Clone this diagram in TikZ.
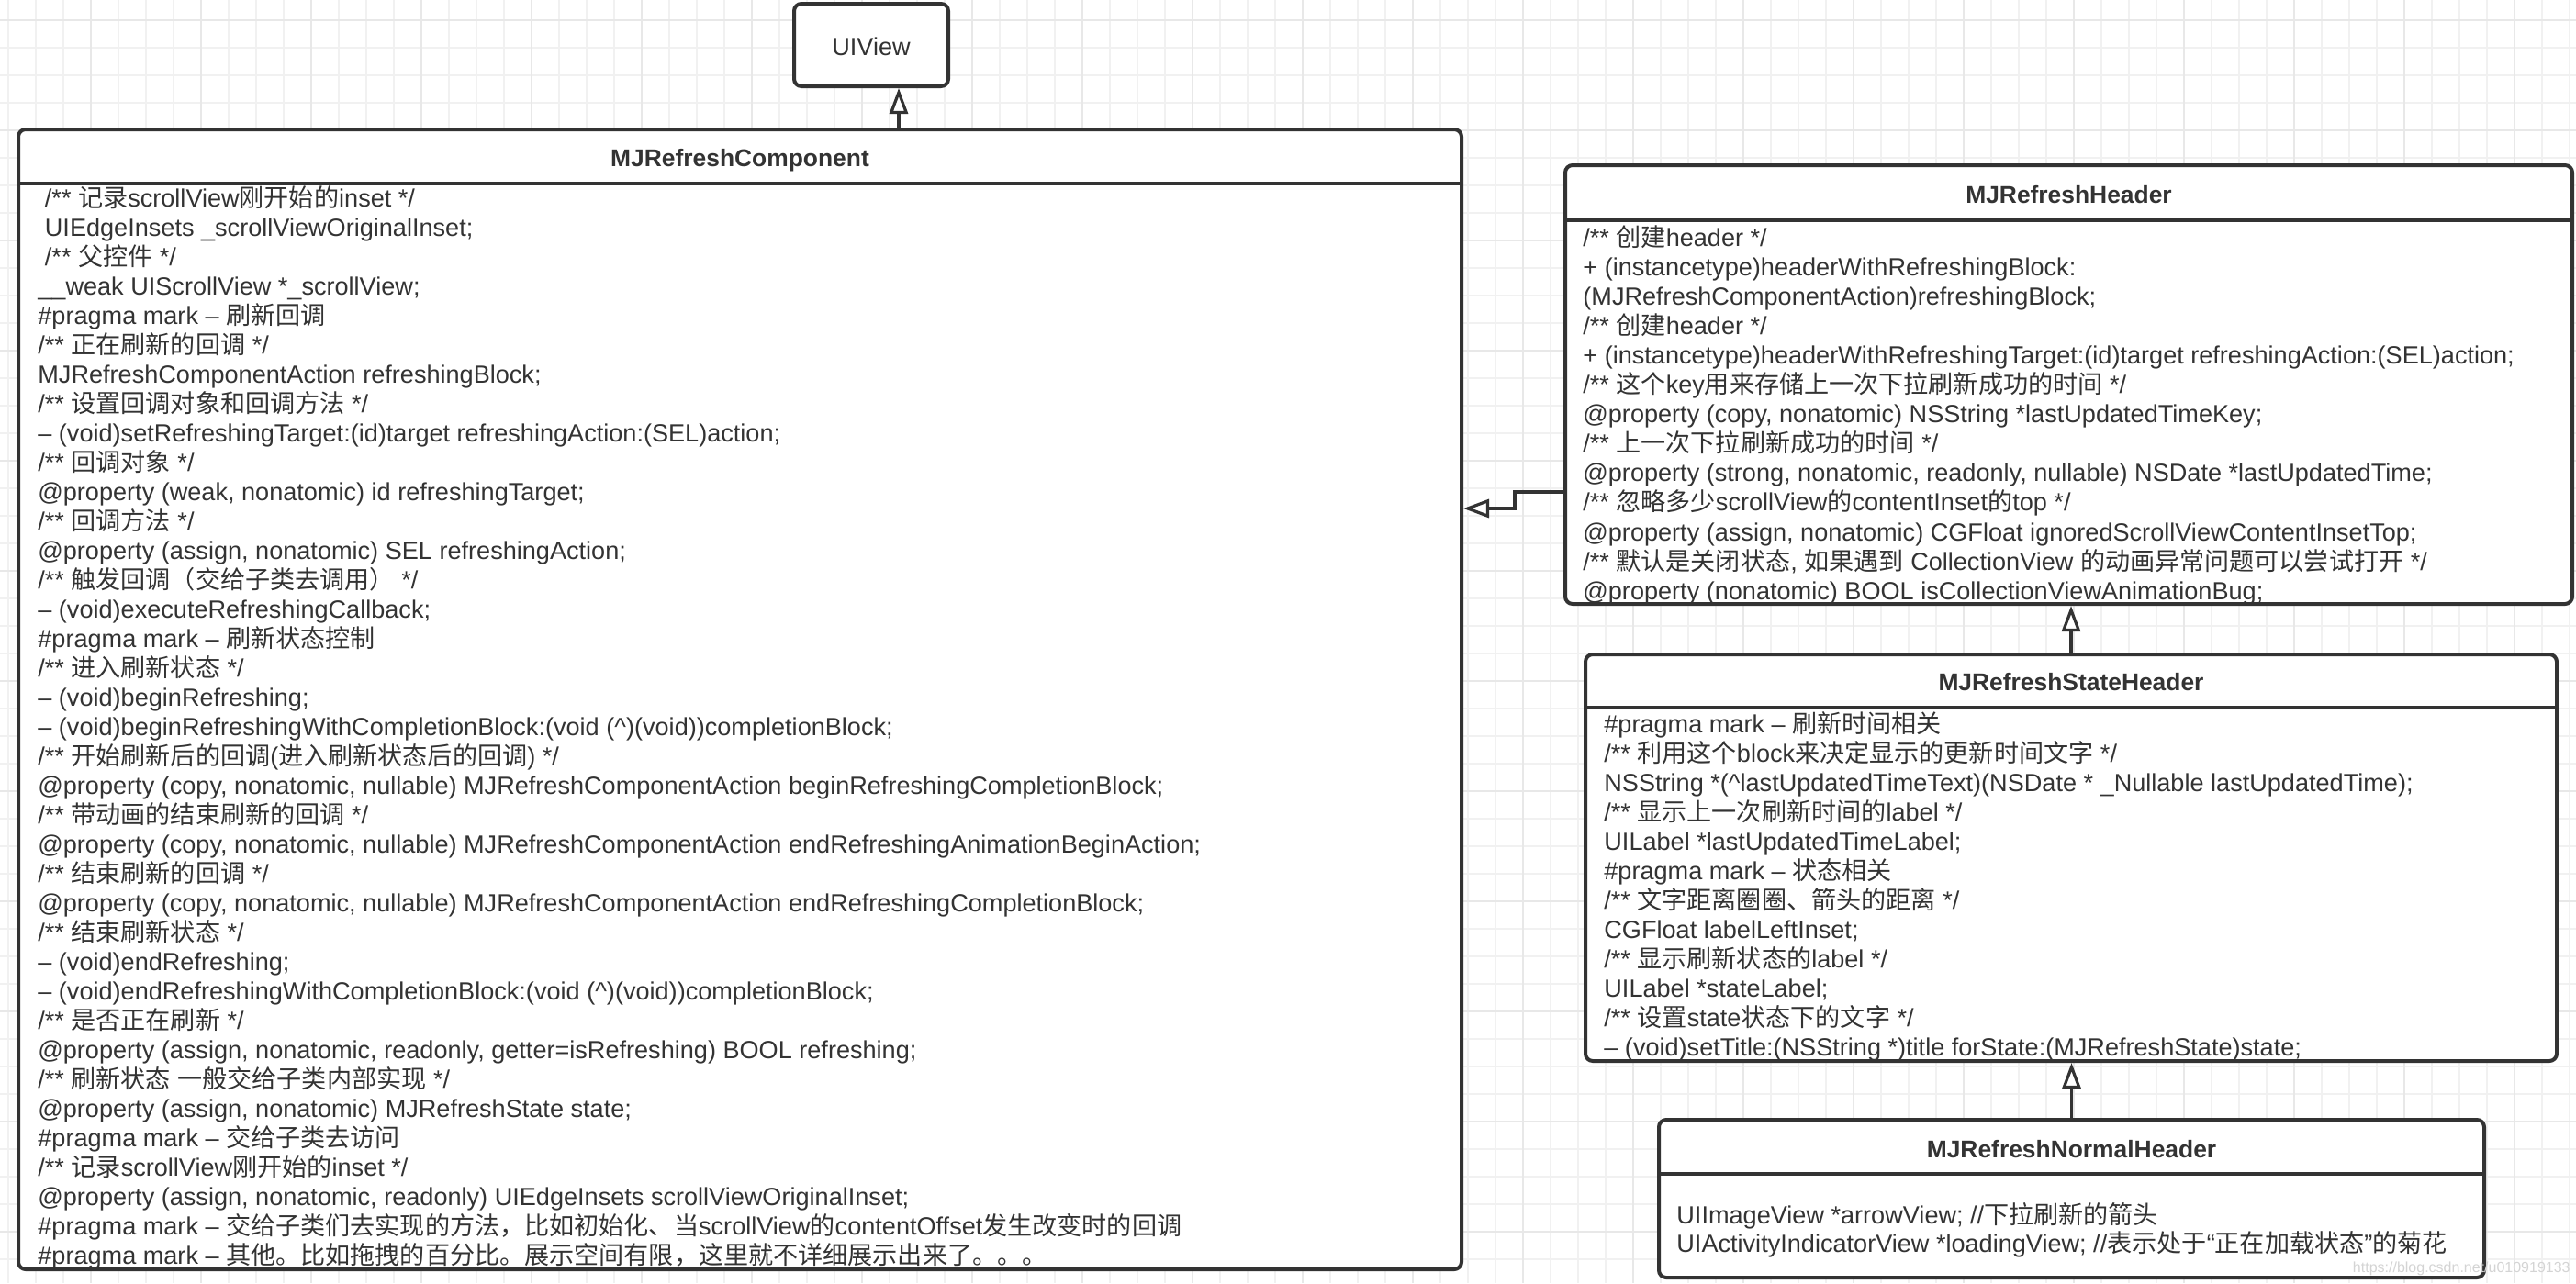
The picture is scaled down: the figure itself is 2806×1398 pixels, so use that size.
\documentclass[tikz,border=0pt]{standalone}
\usepackage{fontspec}
\setmainfont{Liberation Sans}
\newfontfamily\latinfont{Liberation Sans}
\newfontfamily\cjkfont{Noto Sans CJK SC}
\usetikzlibrary{arrows.meta,fit}

% switch to the CJK font for Chinese characters
\newXeTeXintercharclass\cjkclass
\newcount\cjkcode
\def\setcjkrange#1#2{\cjkcode=#1 \loop\XeTeXcharclass\cjkcode=\cjkclass\relax
  \advance\cjkcode by 1 \ifnum\cjkcode<#2 \repeat}
\setcjkrange{"4E00}{"A000}
\setcjkrange{"3000}{"3040}
\setcjkrange{"FF00}{"FFF0}
\XeTeXinterchartoks 0 \cjkclass = {\cjkfont}
\XeTeXinterchartoks 4095 \cjkclass = {\cjkfont}
\XeTeXinterchartoks \cjkclass 0 = {\latinfont}
\XeTeXinterchartoks \cjkclass 4095 = {\latinfont}

\definecolor{umlgray}{HTML}{333333}
\definecolor{gridminor}{HTML}{F1F1F1}
\definecolor{gridmajor}{HTML}{E8E8E8}

\tikzset{
  classbox/.style={draw=umlgray, line width=2pt, rounded corners=4pt, fill=white, inner sep=0pt},
  classname/.style={font=\fontsize{13.2}{16}\selectfont\bfseries, text=umlgray, anchor=base, inner sep=0pt},
  member/.style={font=\fontsize{13.55}{16}\selectfont, text=umlgray, anchor=base west, inner sep=0pt},
  divider/.style={draw=umlgray, line width=2pt},
  inherit/.style={draw=umlgray, line width=1.6pt, -{Triangle[open, length=14pt, width=10pt, fill=white]}},
}

\begin{document}
\XeTeXinterchartokenstate=1
\begin{tikzpicture}[x=0.5pt, y=-0.5pt]
  \useasboundingbox (0,0) rectangle (2806,1398);
  \fill[white] (0,0) rectangle (2806,1398);
  % grid
  \foreach \gx in {9,39,...,2799} \draw[gridminor, line width=1pt] (\gx,0) -- (\gx,1398);
  \foreach \gy in {22,52,...,1392} \draw[gridminor, line width=1pt] (0,\gy) -- (2806,\gy);
  \foreach \gx in {99,219,...,2739} \draw[gridmajor, line width=1pt] (\gx,0) -- (\gx,1398);
  \foreach \gy in {22,142,...,1342} \draw[gridmajor, line width=1pt] (0,\gy) -- (2806,\gy);

  % UIView
  \node[classbox, fit={(865,4) (1033,94)}] (view) {};
  \node[member, anchor=base] (viewname) at (949,60) {UIView};

  % MJRefreshComponent
  \node[classbox, fit={(20,141) (1592,1383)}] (comp) {};
  \node[classname] (compname) at (comp.north |- 0,181) {MJRefreshComponent};
  \draw[divider] (comp.west |- 0,200) -- (comp.east |- 0,200);
  \foreach \txt [count=\i from 0] in {
    {\ /** 记录scrollView刚开始的inset */},
    {\ UIEdgeInsets \_scrollViewOriginalInset;},
    {\ /** 父控件 */},
    {\_\_weak UIScrollView *\_scrollView;},
    {\#pragma mark – 刷新回调},
    {/** 正在刷新的回调 */},
    {MJRefreshComponentAction refreshingBlock;},
    {/** 设置回调对象和回调方法 */},
    {– (void)setRefreshingTarget:(id)target refreshingAction:(SEL)action;},
    {/** 回调对象 */},
    {@property (weak, nonatomic) id refreshingTarget;},
    {/** 回调方法 */},
    {@property (assign, nonatomic) SEL refreshingAction;},
    {/** 触发回调（交给子类去调用） */},
    {– (void)executeRefreshingCallback;},
    {\#pragma mark – 刷新状态控制},
    {/** 进入刷新状态 */},
    {– (void)beginRefreshing;},
    {– (void)beginRefreshingWithCompletionBlock:(void (\textasciicircum)(void))completionBlock;},
    {/** 开始刷新后的回调(进入刷新状态后的回调) */},
    {@property (copy, nonatomic, nullable) MJRefreshComponentAction beginRefreshingCompletionBlock;},
    {/** 带动画的结束刷新的回调 */},
    {@property (copy, nonatomic, nullable) MJRefreshComponentAction endRefreshingAnimationBeginAction;},
    {/** 结束刷新的回调 */},
    {@property (copy, nonatomic, nullable) MJRefreshComponentAction endRefreshingCompletionBlock;},
    {/** 结束刷新状态 */},
    {– (void)endRefreshing;},
    {– (void)endRefreshingWithCompletionBlock:(void (\textasciicircum)(void))completionBlock;},
    {/** 是否正在刷新 */},
    {@property (assign, nonatomic, readonly, getter=isRefreshing) BOOL refreshing;},
    {/** 刷新状态 一般交给子类内部实现 */},
    {@property (assign, nonatomic) MJRefreshState state;},
    {\#pragma mark – 交给子类去访问},
    {/** 记录scrollView刚开始的inset */},
    {@property (assign, nonatomic, readonly) UIEdgeInsets scrollViewOriginalInset;},
    {\#pragma mark – 交给子类们去实现的方法，比如初始化、当scrollView的contentOffset发生改变时的回调},
    {\#pragma mark – 其他。比如拖拽的百分比。展示空间有限，这里就不详细展示出来了。。。}}
    \node[member] (comp\i) at (41,225+32*\i) {\txt};

  % MJRefreshHeader
  \node[classbox, fit={(1705,180) (2802,658)}] (hdr) {};
  \node[classname] (hdrname) at (hdr.north |- 0,221) {MJRefreshHeader};
  \draw[divider] (hdr.west |- 0,240) -- (hdr.east |- 0,240);
  \foreach \txt [count=\i from 0] in {
    {/** 创建header */},
    {+ (instancetype)headerWithRefreshingBlock:},
    {(MJRefreshComponentAction)refreshingBlock;},
    {/** 创建header */},
    {+ (instancetype)headerWithRefreshingTarget:(id)target refreshingAction:(SEL)action;},
    {/** 这个key用来存储上一次下拉刷新成功的时间 */},
    {@property (copy, nonatomic) NSString *lastUpdatedTimeKey;},
    {/** 上一次下拉刷新成功的时间 */},
    {@property (strong, nonatomic, readonly, nullable) NSDate *lastUpdatedTime;},
    {/** 忽略多少scrollView的contentInset的top */},
    {@property (assign, nonatomic) CGFloat ignoredScrollViewContentInsetTop;},
    {/** 默认是关闭状态, 如果遇到 CollectionView 的动画异常问题可以尝试打开 */},
    {@property (nonatomic) BOOL isCollectionViewAnimationBug;}}
    \node[member] (hdr\i) at (1724,268+32.1*\i) {\txt};

  % MJRefreshStateHeader
  \node[classbox, fit={(1727,713) (2785,1156)}] (state) {};
  \node[classname] (statename) at (state.north |- 0,752) {MJRefreshStateHeader};
  \draw[divider] (state.west |- 0,771) -- (state.east |- 0,771);
  \foreach \txt [count=\i from 0] in {
    {\#pragma mark – 刷新时间相关},
    {/** 利用这个block来决定显示的更新时间文字 */},
    {NSString *(\textasciicircum lastUpdatedTimeText)(NSDate * \_Nullable lastUpdatedTime);},
    {/** 显示上一次刷新时间的label */},
    {UILabel *lastUpdatedTimeLabel;},
    {\#pragma mark – 状态相关},
    {/** 文字距离圈圈、箭头的距离 */},
    {CGFloat labelLeftInset;},
    {/** 显示刷新状态的label */},
    {UILabel *stateLabel;},
    {/** 设置state状态下的文字 */},
    {– (void)setTitle:(NSString *)title forState:(MJRefreshState)state;}}
    \node[member] (state\i) at (1747,798+32*\i) {\txt};

  % MJRefreshNormalHeader
  \node[classbox, fit={(1807,1220) (2706,1392)}] (normal) {};
  \node[classname] (normalname) at (normal.north |- 0,1261) {MJRefreshNormalHeader};
  \draw[divider] (normal.west |- 0,1279) -- (normal.east |- 0,1279);
  \node[member] (normal0) at (1826,1333) {UIImageView *arrowView; //下拉刷新的箭头};
  \node[member] (normal1) at (1826,1364) {UIActivityIndicatorView *loadingView; //表示处于“正在加载状态”的菊花};
  \node[font=\fontsize{8}{9}\selectfont, text=black!17, anchor=base east, inner sep=0pt] (mark) at (2800,1386) {https://blog.csdn.net/u010919133};

  % inheritance
  \coordinate (jog) at (1650,554);
  \draw[inherit] (comp.north -| 979,0) -- (view.south -| 979,0);
  \draw[inherit] (hdr.west |- 0,536) -| (jog) -- (comp.east |- jog);
  \draw[inherit] (state.north) -- (state.north |- hdr.south);
  \draw[inherit] (normal.north) -- (normal.north |- state.south);
\end{tikzpicture}
\end{document}
